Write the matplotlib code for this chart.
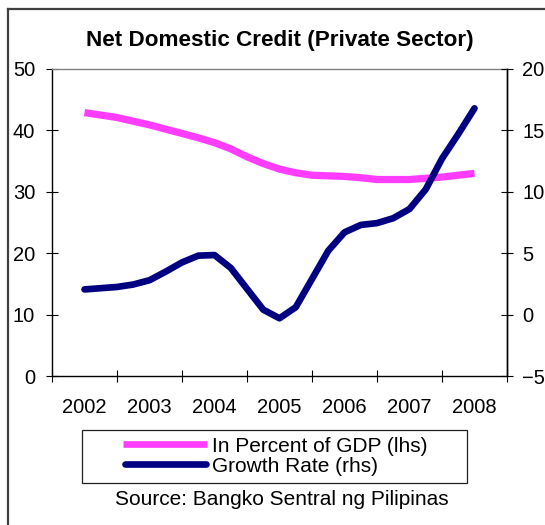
import matplotlib
matplotlib.use("Agg")
import matplotlib.pyplot as plt
from matplotlib.lines import Line2D
from matplotlib.patches import Rectangle

plt.rcParams['font.family'] = ['Liberation Sans', 'DejaVu Sans']

# ---- data -------------------------------------------------------------
years = ['2002', '2003', '2004', '2005', '2006', '2007', '2008']

# end-of-quarter observations
periods = ['Jun-02', 'Sep-02', 'Dec-02',
           'Mar-03', 'Jun-03', 'Sep-03', 'Dec-03',
           'Mar-04', 'Jun-04', 'Sep-04', 'Dec-04',
           'Mar-05', 'Jun-05', 'Sep-05', 'Dec-05',
           'Mar-06', 'Jun-06', 'Sep-06', 'Dec-06',
           'Mar-07', 'Jun-07', 'Sep-07', 'Dec-07',
           'Mar-08', 'Jun-08']

# credit to private sector, % of GDP (left axis)
pct_gdp = [42.9, 42.5, 42.1,
           41.5, 40.9, 40.2, 39.5,
           38.8, 38.0, 37.0, 35.7,
           34.6, 33.7, 33.1, 32.7,
           32.6, 32.5, 32.3, 32.0,
           32.0, 32.0, 32.2, 32.4,
           32.7, 33.0]

# year-on-year growth rate, % (right axis)
growth = [2.05, 2.15, 2.25,
          2.45, 2.8, 3.5, 4.25,
          4.8, 4.85, 3.8, 2.1,
          0.4, -0.3, 0.6, 2.9,
          5.2, 6.7, 7.3, 7.45,
          7.85, 8.6, 10.2, 12.7,
          14.7, 16.8]

left_ticks = [0, 10, 20, 30, 40, 50]
right_ticks = [-5, 0, 5, 10, 15, 20]

MONTHS = {'Mar': 3, 'Jun': 6, 'Sep': 9, 'Dec': 12}


def period_pos(p):
    mon, yy = p.split('-')
    return 2000 + int(yy) + MONTHS[mon] / 12.0


x = [period_pos(p) for p in periods]

# ---- figure -----------------------------------------------------------
W, H = 545, 525
fig = plt.figure(figsize=(W / 100, H / 100), dpi=100)


def fx(px):
    return px / W


def fy(py):
    return 1 - py / H


ax = fig.add_axes([fx(52), fy(376), fx(507) - fx(52), fy(69) - fy(376)])
ax2 = ax.twinx()

PINK = '#FF3CFF'
NAVY = '#000080'

ax.plot(x, pct_gdp, color=PINK, lw=5.2, solid_capstyle='butt', solid_joinstyle='round')
ax2.plot(x, growth, color=NAVY, lw=4.8, solid_capstyle='round', solid_joinstyle='round')

# axes limits and ticks
ax.set_xlim(2002, 2009)
ax.set_ylim(0, 50)
ax2.set_ylim(-5, 20)

start = int(years[0])
ax.set_xticks([start + i for i in range(len(years) + 1)])
ax.set_xticklabels([])
ax.set_xticks([start + i + 0.5 for i in range(len(years))], minor=True)
ax.set_xticklabels(years, minor=True)

ax.set_yticks(left_ticks)
ax2.set_yticks(right_ticks)

ax.tick_params(axis='x', which='major', direction='inout', length=9.2, width=0.8, color='black')
ax.tick_params(axis='x', which='minor', length=0, pad=16.0, labelsize=14.5)
ax.tick_params(axis='y', direction='inout', length=9.2, width=0.8, pad=7.5, labelsize=14.5)
ax2.tick_params(axis='y', direction='inout', length=9.2, width=0.8, pad=6.5, labelsize=14.5)

for name, sp in ax.spines.items():
    sp.set_linewidth(1.0)
    sp.set_color('black')
ax.spines['top'].set_color('#808080')
for name in ('top', 'left', 'bottom'):
    ax2.spines[name].set_visible(False)
ax2.spines['right'].set_linewidth(1.0)
ax2.spines['right'].set_color('black')

# ---- titles and frame ---------------------------------------------------
fig.text(fx(279.5), fy(46), 'Net Domestic Credit (Private Sector)',
         ha='center', va='baseline', fontsize=16.2, fontweight='bold')

fig.text(fx(281.4), fy(505), 'Source: Bangko Sentral ng Pilipinas',
         ha='center', va='baseline', fontsize=15)

frame_color = '#404040'
fig.add_artist(Line2D([fx(8), fx(8)], [0, fy(9)], color=frame_color, lw=1.6,
                      transform=fig.transFigure))
fig.add_artist(Line2D([fx(8), 1], [fy(9), fy(9)], color=frame_color, lw=1.6,
                      transform=fig.transFigure))

# ---- legend -------------------------------------------------------------
fig.add_artist(Rectangle((fx(82.3), fy(482.7)), fx(466.7) - fx(82.3), fy(430) - fy(482.7),
                         transform=fig.transFigure, fill=False, edgecolor='#202020', lw=0.9))
fig.add_artist(Line2D([fx(123.3), fx(207.3)], [fy(444.3)] * 2, color=PINK, lw=4.8,
                      solid_capstyle='butt', transform=fig.transFigure))
fig.add_artist(Line2D([fx(125), fx(205.5)], [fy(463.7)] * 2, color=NAVY, lw=4.8,
                      solid_capstyle='round', transform=fig.transFigure))
fig.text(fx(211.5), fy(452.3), 'In Percent of GDP (lhs)', ha='left', va='baseline', fontsize=15)
fig.text(fx(211.5), fy(471.7), 'Growth Rate (rhs)', ha='left', va='baseline', fontsize=15)

fig.savefig('out.png', dpi=100)
